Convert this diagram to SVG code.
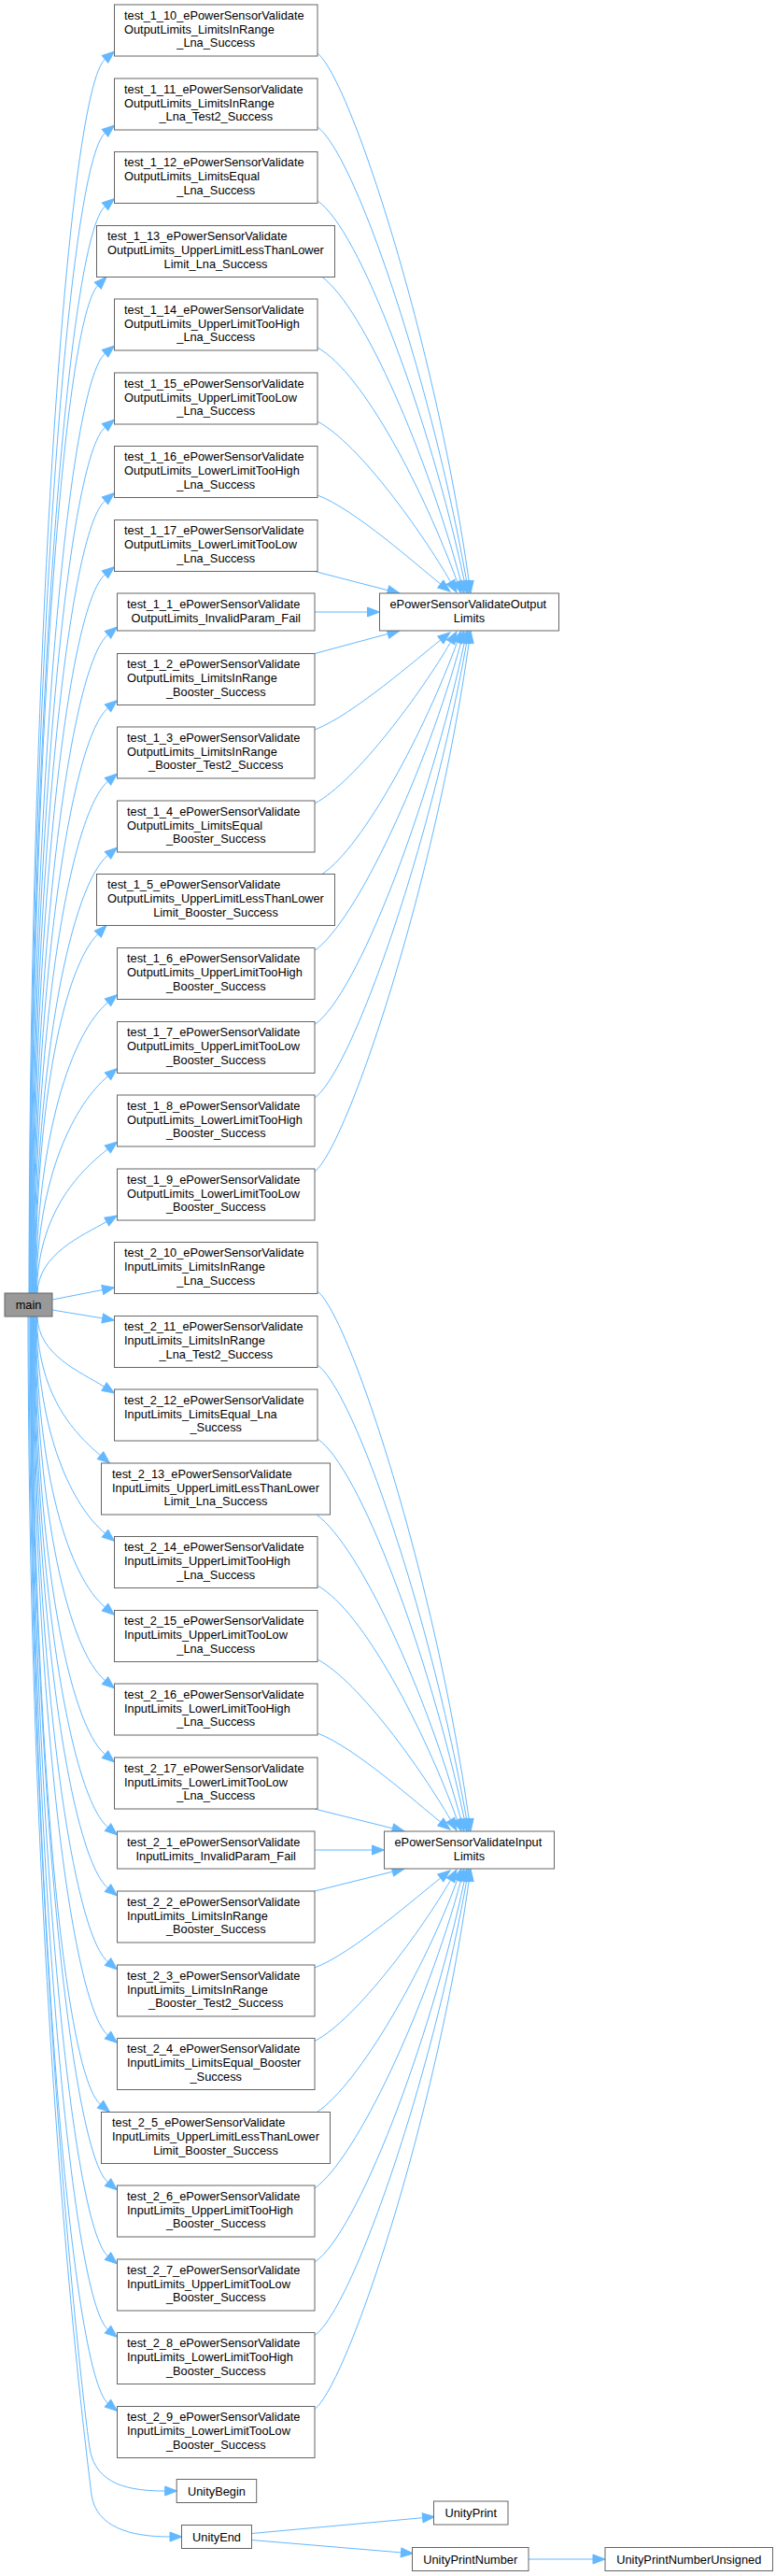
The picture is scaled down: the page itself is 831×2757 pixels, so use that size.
<svg xmlns="http://www.w3.org/2000/svg" width="831" height="2757" viewBox="0 0 831 2757">
<style>
.n rect{fill:#fff;stroke:#666;stroke-width:1}
.m rect{fill:#999;stroke:#666;stroke-width:1}
text{font-family:"Liberation Sans",Arial,sans-serif;font-size:12.8px;fill:#000}
.c{text-anchor:middle}
.e path{fill:none;stroke:#63b8ff;stroke-width:1;marker-end:url(#a)}
</style>
<defs>
<marker id="a" markerUnits="userSpaceOnUse" markerWidth="16" markerHeight="14" refX="0" refY="5" orient="auto" overflow="visible"><path d="M0,0 L13,5 L0,10 z" fill="#63b8ff" stroke="#63b8ff" stroke-width="1"/></marker>
</defs>
<rect width="831" height="2757" fill="#fff"/>
<g id="edges" class="e">
<path d="M31,1384 C32,657.7 74.2,95.5 112.5,63.4"/>
<path d="M31.6,1384 C32.6,701.1 74.2,174.5 112.5,142.4"/>
<path d="M32.1,1384 C33.1,744.3 74.2,253 112.5,220.9"/>
<path d="M32.7,1384 C33.7,790.9 69.4,341.1 104.8,305.7"/>
<path d="M33.2,1384 C34.2,830.9 74.2,410.5 112.5,378.4"/>
<path d="M33.8,1384 C34.8,874.4 74.2,489.5 112.5,457.4"/>
<path d="M34.4,1384 C35.4,917.5 74.2,568 112.5,535.9"/>
<path d="M34.9,1384 C35.9,961 74.2,647 112.5,614.9"/>
<path d="M35.5,1384 C36.5,996.5 77.2,711.5 115.5,679.4"/>
<path d="M36,1384 C37,1039.6 77.2,790 115.5,757.9"/>
<path d="M36.6,1384 C37.6,1082.8 77.2,868.5 115.5,836.4"/>
<path d="M37.2,1384 C38.2,1126.3 77.2,947.5 115.5,915.4"/>
<path d="M37.7,1384 C38.7,1172.6 69.4,1035.1 104.8,999.7"/>
<path d="M38.3,1384 C39.3,1212.9 77.2,1105 115.5,1072.9"/>
<path d="M38.8,1384 C39.8,1256.3 81,1180.8 115.5,1151.9"/>
<path d="M39.4,1384 C40.4,1299.3 83.8,1254.6 115.3,1230"/>
<path d="M40,1384 C41,1342 88.2,1322.5 114.2,1307.5"/>
<path d="M56,1391 L109.75,1380.5"/>
<path d="M56,1402 L109.7,1410.9"/>
<path d="M40,1409 C41,1450.3 86.1,1468.2 111.5,1484.1"/>
<path d="M39.4,1409 C40.4,1490.7 76.9,1531.9 107.5,1557.6"/>
<path d="M38.9,1409 C39.9,1536.7 78,1612.2 112.5,1641.1"/>
<path d="M38.3,1409 C39.3,1580.1 74.2,1688 112.5,1720.1"/>
<path d="M37.8,1409 C38.8,1623.3 74.2,1766.5 112.5,1798.6"/>
<path d="M37.2,1409 C38.2,1666.7 74.2,1845.5 112.5,1877.6"/>
<path d="M36.6,1409 C37.6,1709.6 77.2,1923.5 115.5,1955.6"/>
<path d="M36.1,1409 C37.1,1745.4 77.2,1988.5 115.5,2020.6"/>
<path d="M35.5,1409 C36.5,1788.8 77.2,2067.5 115.5,2099.6"/>
<path d="M35,1409 C36,1832 77.2,2146 115.5,2178.1"/>
<path d="M34.4,1409 C35.4,1872.7 69.2,2220 107.5,2252.1"/>
<path d="M33.8,1409 C34.8,1918.6 77.2,2303.5 115.5,2335.6"/>
<path d="M33.3,1409 C34.3,1962.1 77.2,2382.5 115.5,2414.6"/>
<path d="M32.7,1409 C33.7,2005.3 77.2,2461 115.5,2493.1"/>
<path d="M32.2,1409 C33.2,2048.7 77.2,2540 115.5,2572.1"/>
<path d="M31,1409 C32,2100 90,2580 96,2620 C102,2660 140,2666 176.7,2666"/>
<path d="M30,1409 C31,2150 92,2620 98,2670 C103,2705 140,2715 182,2715"/>
<path d="M340,57 C375,85 466,364.7 502.2,622.1"/>
<path d="M340,136 C380,165 461.4,405.5 499.7,622.2"/>
<path d="M340,215 C385,245 459.9,446.3 497.3,622.3"/>
<path d="M345,296.5 C390,330 457.3,487.2 493.6,622.4"/>
<path d="M340,372 C390,400 455.4,528.8 489.6,622.8"/>
<path d="M340,451 C385,475 452.5,570.7 482.5,622.7"/>
<path d="M340,530 C380,545 448.2,606.5 471.8,625"/>
<path d="M337,611.5 L415.4,631.75"/>
<path d="M337,655 L393.5,655"/>
<path d="M337,699.5 L415.4,678.4"/>
<path d="M337,781 C377,766 448.2,703.5 471.8,685"/>
<path d="M337,860 C382,836 452.5,739.3 482.5,687.3"/>
<path d="M345,935.5 C390,905 455.4,781.2 489.6,687.2"/>
<path d="M337,1017.5 C382,985 457.3,822.8 493.6,687.6"/>
<path d="M337,1096.5 C382,1066 459.9,863.7 497.3,687.7"/>
<path d="M337,1175 C377,1146 461.4,904.5 499.7,687.8"/>
<path d="M337,1254 C372,1226 466,945.3 502.2,687.9"/>
<path d="M340,1382 C375,1410 466,1689.7 502.2,1947.1"/>
<path d="M340,1461 C380,1490 461.4,1730.5 499.7,1947.2"/>
<path d="M340,1540 C385,1570 459.9,1771.3 497.3,1947.3"/>
<path d="M339.5,1621.5 C385,1655 457.3,1812.2 493.6,1947.4"/>
<path d="M340,1697 C390,1725 455.4,1853.8 489.6,1947.8"/>
<path d="M340,1776 C385,1800 452.5,1895.7 482.5,1947.7"/>
<path d="M340,1855 C380,1870 448.2,1931.5 471.8,1950"/>
<path d="M337,1936 L420.4,1956.85"/>
<path d="M337,1980 L398.5,1980"/>
<path d="M337,2024 L420.4,2003.15"/>
<path d="M337,2106 C377,2091 448.2,2028.5 471.8,2010"/>
<path d="M337,2184.5 C382,2161 452.5,2064.3 482.5,2012.3"/>
<path d="M339.5,2260.5 C385,2230 455.4,2106.2 489.6,2012.2"/>
<path d="M337,2342 C382,2310 457.3,2147.8 493.6,2012.6"/>
<path d="M337,2421 C382,2391 459.9,2188.7 497.3,2012.7"/>
<path d="M337,2499.5 C377,2471 461.4,2229.5 499.7,2012.8"/>
<path d="M337,2578.5 C372,2551 466,2270.3 502.2,2012.9"/>
<path d="M269.5,2711.5 L452.6,2694.7"/>
<path d="M269.5,2718.5 L429.5,2731.9"/>
<path d="M566,2739 L635,2739"/>
</g>
<g id="main" class="m" transform="translate(5,1384)"><rect width="51" height="25"/><text class="c" x="25.5" y="17">main</text></g>
<g id="test_1_10" class="n" transform="translate(122.5,5)"><rect width="217.5" height="55"/><text x="10.5" y="15.8">test_1_10_ePowerSensorValidate</text><text x="10.5" y="30.5">OutputLimits_LimitsInRange</text><text class="c" x="108.75" y="45.2">_Lna_Success</text></g>
<g id="test_1_11" class="n" transform="translate(122.5,84)"><rect width="217.5" height="55"/><text x="10.5" y="15.8">test_1_11_ePowerSensorValidate</text><text x="10.5" y="30.5">OutputLimits_LimitsInRange</text><text class="c" x="108.75" y="45.2">_Lna_Test2_Success</text></g>
<g id="test_1_12" class="n" transform="translate(122.5,162.5)"><rect width="217.5" height="55"/><text x="10.5" y="15.8">test_1_12_ePowerSensorValidate</text><text x="10.5" y="30.5">OutputLimits_LimitsEqual</text><text class="c" x="108.75" y="45.2">_Lna_Success</text></g>
<g id="test_1_13" class="n" transform="translate(103.5,241.5)"><rect width="255" height="55"/><text x="11.5" y="15.8">test_1_13_ePowerSensorValidate</text><text x="11.5" y="30.5">OutputLimits_UpperLimitLessThanLower</text><text class="c" x="127.5" y="45.2">Limit_Lna_Success</text></g>
<g id="test_1_14" class="n" transform="translate(122.5,320)"><rect width="217.5" height="55"/><text x="10.5" y="15.8">test_1_14_ePowerSensorValidate</text><text x="10.5" y="30.5">OutputLimits_UpperLimitTooHigh</text><text class="c" x="108.75" y="45.2">_Lna_Success</text></g>
<g id="test_1_15" class="n" transform="translate(122.5,399)"><rect width="217.5" height="55"/><text x="10.5" y="15.8">test_1_15_ePowerSensorValidate</text><text x="10.5" y="30.5">OutputLimits_UpperLimitTooLow</text><text class="c" x="108.75" y="45.2">_Lna_Success</text></g>
<g id="test_1_16" class="n" transform="translate(122.5,477.5)"><rect width="217.5" height="55"/><text x="10.5" y="15.8">test_1_16_ePowerSensorValidate</text><text x="10.5" y="30.5">OutputLimits_LowerLimitTooHigh</text><text class="c" x="108.75" y="45.2">_Lna_Success</text></g>
<g id="test_1_17" class="n" transform="translate(122.5,556.5)"><rect width="217.5" height="55"/><text x="10.5" y="15.8">test_1_17_ePowerSensorValidate</text><text x="10.5" y="30.5">OutputLimits_LowerLimitTooLow</text><text class="c" x="108.75" y="45.2">_Lna_Success</text></g>
<g id="test_1_1" class="n" transform="translate(125.5,635)"><rect width="211.5" height="40"/><text x="10.5" y="15.8">test_1_1_ePowerSensorValidate</text><text class="c" x="105.75" y="30.5">OutputLimits_InvalidParam_Fail</text></g>
<g id="test_1_2" class="n" transform="translate(125.5,699.5)"><rect width="211.5" height="55"/><text x="10.5" y="15.8">test_1_2_ePowerSensorValidate</text><text x="10.5" y="30.5">OutputLimits_LimitsInRange</text><text class="c" x="105.75" y="45.2">_Booster_Success</text></g>
<g id="test_1_3" class="n" transform="translate(125.5,778)"><rect width="211.5" height="55"/><text x="10.5" y="15.8">test_1_3_ePowerSensorValidate</text><text x="10.5" y="30.5">OutputLimits_LimitsInRange</text><text class="c" x="105.75" y="45.2">_Booster_Test2_Success</text></g>
<g id="test_1_4" class="n" transform="translate(125.5,857)"><rect width="211.5" height="55"/><text x="10.5" y="15.8">test_1_4_ePowerSensorValidate</text><text x="10.5" y="30.5">OutputLimits_LimitsEqual</text><text class="c" x="105.75" y="45.2">_Booster_Success</text></g>
<g id="test_1_5" class="n" transform="translate(103.5,935.5)"><rect width="255" height="55"/><text x="11.5" y="15.8">test_1_5_ePowerSensorValidate</text><text x="11.5" y="30.5">OutputLimits_UpperLimitLessThanLower</text><text class="c" x="127.5" y="45.2">Limit_Booster_Success</text></g>
<g id="test_1_6" class="n" transform="translate(125.5,1014.5)"><rect width="211.5" height="55"/><text x="10.5" y="15.8">test_1_6_ePowerSensorValidate</text><text x="10.5" y="30.5">OutputLimits_UpperLimitTooHigh</text><text class="c" x="105.75" y="45.2">_Booster_Success</text></g>
<g id="test_1_7" class="n" transform="translate(125.5,1093.5)"><rect width="211.5" height="55"/><text x="10.5" y="15.8">test_1_7_ePowerSensorValidate</text><text x="10.5" y="30.5">OutputLimits_UpperLimitTooLow</text><text class="c" x="105.75" y="45.2">_Booster_Success</text></g>
<g id="test_1_8" class="n" transform="translate(125.5,1172)"><rect width="211.5" height="55"/><text x="10.5" y="15.8">test_1_8_ePowerSensorValidate</text><text x="10.5" y="30.5">OutputLimits_LowerLimitTooHigh</text><text class="c" x="105.75" y="45.2">_Booster_Success</text></g>
<g id="test_1_9" class="n" transform="translate(125.5,1251)"><rect width="211.5" height="55"/><text x="10.5" y="15.8">test_1_9_ePowerSensorValidate</text><text x="10.5" y="30.5">OutputLimits_LowerLimitTooLow</text><text class="c" x="105.75" y="45.2">_Booster_Success</text></g>
<g id="test_2_10" class="n" transform="translate(122.5,1329.5)"><rect width="217.5" height="55"/><text x="10.5" y="15.8">test_2_10_ePowerSensorValidate</text><text x="10.5" y="30.5">InputLimits_LimitsInRange</text><text class="c" x="108.75" y="45.2">_Lna_Success</text></g>
<g id="test_2_11" class="n" transform="translate(122.5,1408.5)"><rect width="217.5" height="55"/><text x="10.5" y="15.8">test_2_11_ePowerSensorValidate</text><text x="10.5" y="30.5">InputLimits_LimitsInRange</text><text class="c" x="108.75" y="45.2">_Lna_Test2_Success</text></g>
<g id="test_2_12" class="n" transform="translate(122.5,1487)"><rect width="217.5" height="55"/><text x="10.5" y="15.8">test_2_12_ePowerSensorValidate</text><text x="10.5" y="30.5">InputLimits_LimitsEqual_Lna</text><text class="c" x="108.75" y="45.2">_Success</text></g>
<g id="test_2_13" class="n" transform="translate(108.5,1566)"><rect width="245" height="55"/><text x="11.5" y="15.8">test_2_13_ePowerSensorValidate</text><text x="11.5" y="30.5">InputLimits_UpperLimitLessThanLower</text><text class="c" x="122.5" y="45.2">Limit_Lna_Success</text></g>
<g id="test_2_14" class="n" transform="translate(122.5,1644.5)"><rect width="217.5" height="55"/><text x="10.5" y="15.8">test_2_14_ePowerSensorValidate</text><text x="10.5" y="30.5">InputLimits_UpperLimitTooHigh</text><text class="c" x="108.75" y="45.2">_Lna_Success</text></g>
<g id="test_2_15" class="n" transform="translate(122.5,1723.5)"><rect width="217.5" height="55"/><text x="10.5" y="15.8">test_2_15_ePowerSensorValidate</text><text x="10.5" y="30.5">InputLimits_UpperLimitTooLow</text><text class="c" x="108.75" y="45.2">_Lna_Success</text></g>
<g id="test_2_16" class="n" transform="translate(122.5,1802)"><rect width="217.5" height="55"/><text x="10.5" y="15.8">test_2_16_ePowerSensorValidate</text><text x="10.5" y="30.5">InputLimits_LowerLimitTooHigh</text><text class="c" x="108.75" y="45.2">_Lna_Success</text></g>
<g id="test_2_17" class="n" transform="translate(122.5,1881)"><rect width="217.5" height="55"/><text x="10.5" y="15.8">test_2_17_ePowerSensorValidate</text><text x="10.5" y="30.5">InputLimits_LowerLimitTooLow</text><text class="c" x="108.75" y="45.2">_Lna_Success</text></g>
<g id="test_2_1" class="n" transform="translate(125.5,1960)"><rect width="211.5" height="40"/><text x="10.5" y="15.8">test_2_1_ePowerSensorValidate</text><text class="c" x="105.75" y="30.5">InputLimits_InvalidParam_Fail</text></g>
<g id="test_2_2" class="n" transform="translate(125.5,2024)"><rect width="211.5" height="55"/><text x="10.5" y="15.8">test_2_2_ePowerSensorValidate</text><text x="10.5" y="30.5">InputLimits_LimitsInRange</text><text class="c" x="105.75" y="45.2">_Booster_Success</text></g>
<g id="test_2_3" class="n" transform="translate(125.5,2103)"><rect width="211.5" height="55"/><text x="10.5" y="15.8">test_2_3_ePowerSensorValidate</text><text x="10.5" y="30.5">InputLimits_LimitsInRange</text><text class="c" x="105.75" y="45.2">_Booster_Test2_Success</text></g>
<g id="test_2_4" class="n" transform="translate(125.5,2181.5)"><rect width="211.5" height="55"/><text x="10.5" y="15.8">test_2_4_ePowerSensorValidate</text><text x="10.5" y="30.5">InputLimits_LimitsEqual_Booster</text><text class="c" x="105.75" y="45.2">_Success</text></g>
<g id="test_2_5" class="n" transform="translate(108.5,2260.5)"><rect width="245" height="55"/><text x="11.5" y="15.8">test_2_5_ePowerSensorValidate</text><text x="11.5" y="30.5">InputLimits_UpperLimitLessThanLower</text><text class="c" x="122.5" y="45.2">Limit_Booster_Success</text></g>
<g id="test_2_6" class="n" transform="translate(125.5,2339)"><rect width="211.5" height="55"/><text x="10.5" y="15.8">test_2_6_ePowerSensorValidate</text><text x="10.5" y="30.5">InputLimits_UpperLimitTooHigh</text><text class="c" x="105.75" y="45.2">_Booster_Success</text></g>
<g id="test_2_7" class="n" transform="translate(125.5,2418)"><rect width="211.5" height="55"/><text x="10.5" y="15.8">test_2_7_ePowerSensorValidate</text><text x="10.5" y="30.5">InputLimits_UpperLimitTooLow</text><text class="c" x="105.75" y="45.2">_Booster_Success</text></g>
<g id="test_2_8" class="n" transform="translate(125.5,2496.5)"><rect width="211.5" height="55"/><text x="10.5" y="15.8">test_2_8_ePowerSensorValidate</text><text x="10.5" y="30.5">InputLimits_LowerLimitTooHigh</text><text class="c" x="105.75" y="45.2">_Booster_Success</text></g>
<g id="test_2_9" class="n" transform="translate(125.5,2575.5)"><rect width="211.5" height="55"/><text x="10.5" y="15.8">test_2_9_ePowerSensorValidate</text><text x="10.5" y="30.5">InputLimits_LowerLimitTooLow</text><text class="c" x="105.75" y="45.2">_Booster_Success</text></g>
<g id="ePowerSensorValidateOutputLimits" class="n" transform="translate(406.5,635)"><rect width="192" height="40"/><text x="11" y="15.8">ePowerSensorValidateOutput</text><text class="c" x="96" y="30.5">Limits</text></g>
<g id="ePowerSensorValidateInputLimits" class="n" transform="translate(411.5,1960)"><rect width="182" height="40"/><text x="11" y="15.8">ePowerSensorValidateInput</text><text class="c" x="91" y="30.5">Limits</text></g>
<g id="UnityBegin" class="n" transform="translate(189.2,2653.5)"><rect width="85.5" height="25"/><text class="c" x="42.75" y="17">UnityBegin</text></g>
<g id="UnityEnd" class="n" transform="translate(194.5,2702.5)"><rect width="75" height="25"/><text class="c" x="37.5" y="17">UnityEnd</text></g>
<g id="UnityPrint" class="n" transform="translate(464.5,2677)"><rect width="79.5" height="25"/><text class="c" x="39.75" y="17">UnityPrint</text></g>
<g id="UnityPrintNumber" class="n" transform="translate(441.5,2726.5)"><rect width="124.5" height="25"/><text class="c" x="62.25" y="17">UnityPrintNumber</text></g>
<g id="UnityPrintNumberUnsigned" class="n" transform="translate(648,2726.5)"><rect width="179.5" height="25"/><text class="c" x="89.75" y="17">UnityPrintNumberUnsigned</text></g>
</svg>
